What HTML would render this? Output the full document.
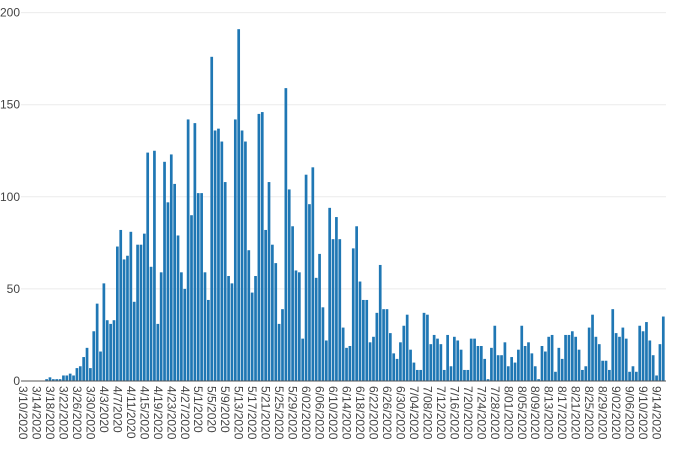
<!DOCTYPE html>
<html><head><meta charset="utf-8"><style>
html,body{margin:0;padding:0;background:#fff;}
svg{display:block;font-family:"Liberation Sans","DejaVu Sans",sans-serif;}
</style></head><body>
<svg id="chart" width="680" height="452" viewBox="0 0 680 452" xmlns="http://www.w3.org/2000/svg">
<g id="grid"></g>
<g id="bars"></g>
<g id="yaxis"></g>
<g id="xaxis"></g>
</svg>
<script>
const values = [0,0,0,0,0,0,0,1,2,1,1,1,3,3,4,3,7,8,13,18,7,27,42,16,53,33,31,33,73,82,66,68,81,43,74,74,80,124,62,125,31,59,119,97,123,107,79,59,50,142,90,140,102,102,59,44,176,136,137,130,108,57,53,142,191,
136,130,71,48,57,145,146,82,108,74,64,31,39,159,104,84,60,59,23,112,96,116,56,69,40,22,94,77,89,77,29,18,19,72,84,54,44,44,21,24,37,63,39,39,26,15,12,21,30,36,17,10,6,6,37,36,20,25,23,20,6,25,8,24,22,
17,6,6,23,23,19,19,12,1,18,30,14,14,21,8,13,10,17,30,19,21,15,8,1,19,16,24,25,5,18,12,25,25,27,24,17,6,8,29,36,24,20,11,11,6,39,26,24,29,23,5,8,5,30,27,32,22,14,3,20,35];
const tickLabels = ["3/10/2020","3/14/2020","3/18/2020","3/22/2020","3/26/2020","3/30/2020","4/3/2020","4/7/2020","4/11/2020","4/15/2020","4/19/2020","4/23/2020","4/27/2020","5/1/2020","5/5/2020","5/9/2020","5/13/2020","5/17/2020","5/21/2020","5/25/2020","5/29/2020","6/02/2020","6/06/2020","6/10/2020","6/14/2020","6/18/2020","6/22/2020","6/26/2020","6/30/2020","7/04/2020","7/08/2020","7/12/2020","7/16/2020","7/20/2020","7/24/2020","7/28/2020","8/01/2020","8/05/2020","8/09/2020","8/13/2020","8/17/2020","8/21/2020","8/25/2020","8/29/2020","9/02/2020","9/06/2020","9/10/2020","9/14/2020"];
const tickEvery = 4;
const yTicks = [0,50,100,150,200];

const NS = "http://www.w3.org/2000/svg";
const X0 = 23, STEP = 3.37, Y0 = 381, YMAX = 200, YTOP = 12.6;
const plotLeft = 21, plotRight = 666;
function xScale(i){ return X0 + i*STEP; }
function yScale(v){ return Y0 - v*(Y0-YTOP)/YMAX; }
function mk(tag, attrs, parent){ const e=document.createElementNS(NS,tag); for(const k in attrs) e.setAttribute(k,attrs[k]); parent.appendChild(e); return e; }

const grid=document.getElementById('grid'), barsG=document.getElementById('bars'), yax=document.getElementById('yaxis'), xax=document.getElementById('xaxis');

yTicks.forEach(t=>{
  const y=yScale(t);
  if(t!==0){
    const l=mk('line',{x1:plotLeft,x2:plotRight,y1:y,y2:y,stroke:'#ebebeb','stroke-width':1},grid);
    
    
  }
  const tx=mk('text',{x:20,y:y+4,'text-anchor':'end','font-size':12,fill:'#444'},yax);
  tx.textContent=String(t);
  
  
});

values.forEach((v,i)=>{
  const w=2.7, x=xScale(i)-w/2, y=yScale(v);
  const r=mk('rect',{x:x,y:y,width:w,height:Math.max(0,Y0-y),fill:'#1f77b4'},barsG);
  
  
});

const zl=mk('line',{x1:plotLeft,x2:plotRight,y1:Y0,y2:Y0,stroke:'#555','stroke-width':1},xax);



tickLabels.forEach((lab,k)=>{
  const x=xScale(k*tickEvery);
  const t=mk('text',{x:0,y:0,'font-size':12,fill:'#444',transform:'translate('+(x-4)+',386) rotate(90)'},xax);
  t.textContent=lab;
  
  
});
</script>
</body></html>
